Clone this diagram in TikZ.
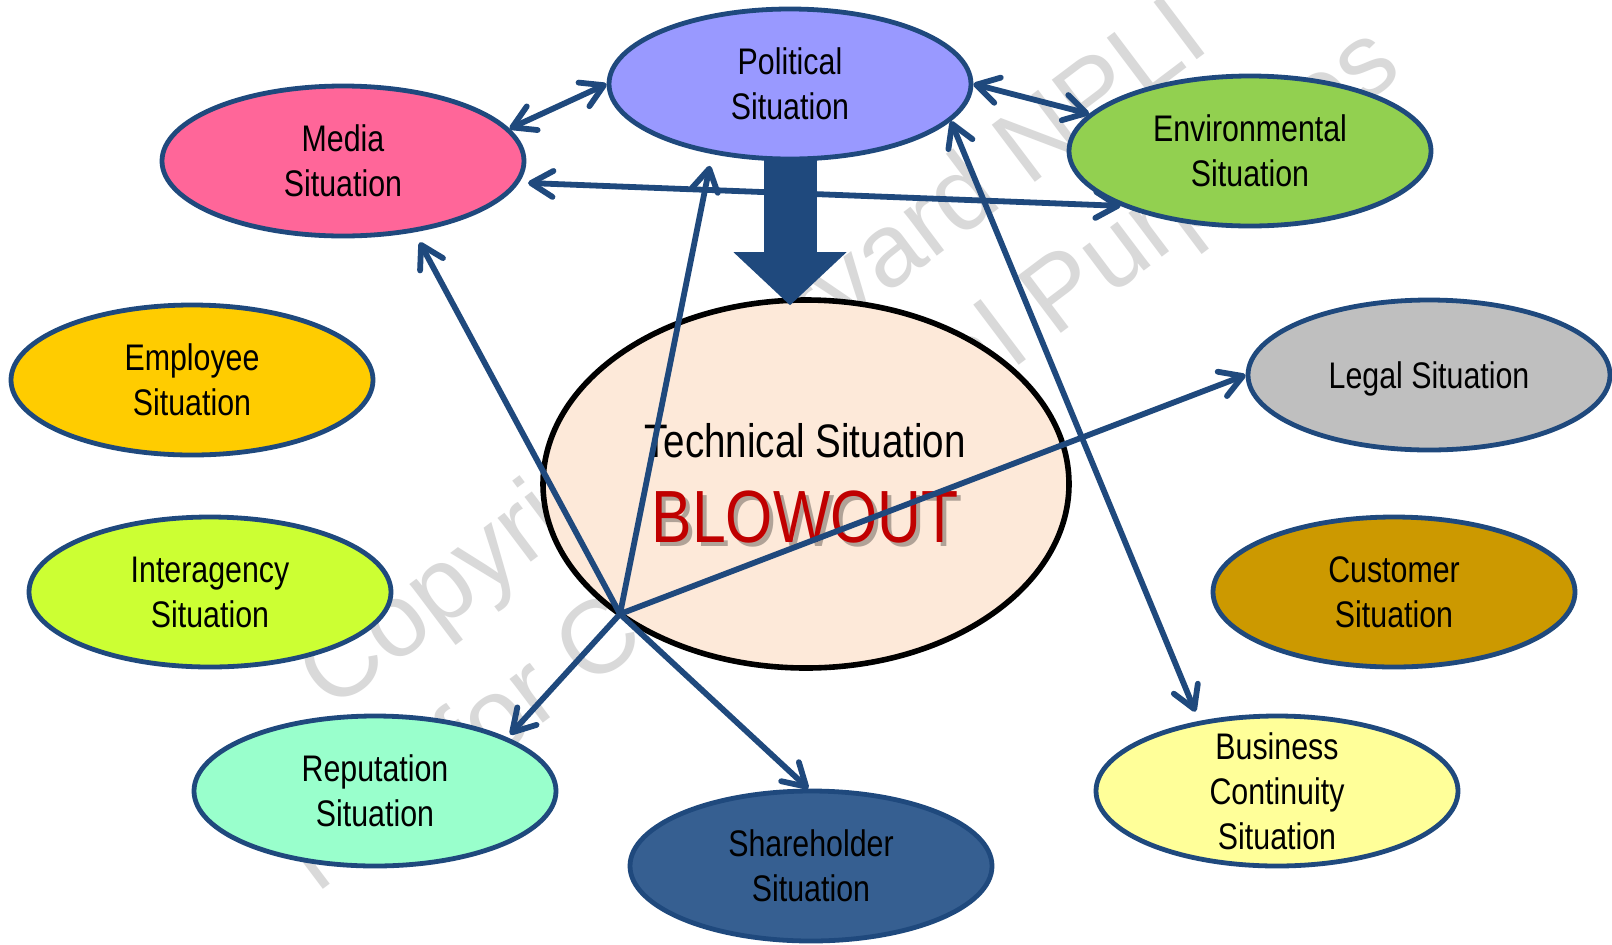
\documentclass[tikz,border=0pt]{standalone}
\usepackage{fontspec}
\setmainfont{Liberation Sans}
\newfontfamily\narrowfont{Liberation Sans}[FakeStretch=0.82]
\newfontfamily\blowfont{Liberation Sans}[FakeStretch=0.82]
\usetikzlibrary{shapes.geometric,arrows.meta,calc}

\definecolor{linkblue}{RGB}{31,73,125}
\definecolor{polfill}{RGB}{153,153,255}
\definecolor{mediafill}{RGB}{255,102,153}
\definecolor{envfill}{RGB}{146,208,80}
\definecolor{empfill}{RGB}{255,204,0}
\definecolor{interfill}{RGB}{204,255,51}
\definecolor{repfill}{RGB}{153,255,204}
\definecolor{sharefill}{RGB}{54,95,145}
\definecolor{busfill}{RGB}{255,255,153}
\definecolor{custfill}{RGB}{204,153,0}
\definecolor{legalfill}{RGB}{191,191,191}
\definecolor{techfill}{RGB}{253,233,217}
\definecolor{blowred}{RGB}{192,0,0}
\definecolor{markgray}{RGB}{217,217,217}

\begin{document}
\begin{tikzpicture}[x=0.5pt,y=-0.5pt,
  situation/.style={ellipse, draw=linkblue, line width=2.4pt,
    minimum width=181pt, minimum height=75pt, inner sep=0pt, align=center,
    font=\narrowfont\fontsize{18.5}{22.5}\selectfont},
  barb/.tip={Straight Barb[length=11pt,width=13pt,round]},
  link/.style={draw=linkblue, line width=2.9pt, line cap=round},
  oneway/.style={link, -barb},
  twoway/.style={link, barb-barb},
  watermark/.style={text=markgray, rotate=37, anchor=base west, inner sep=0pt,
    font=\fontsize{52}{60}\selectfont}
]
\fill[white] (0,0) rectangle (1612,944);
\useasboundingbox (0,0) rectangle (1612,944);

% watermark behind everything
\node[watermark] (wmone) at (331,713) {Copyright Harvard NPLI};
\node[watermark] (wmtwo) at (316,895) {Not for Commercial Purposes};

% surrounding situations
\node[situation, fill=polfill]   (political)   at (790,84)   {Political\\Situation};
\node[situation, fill=mediafill] (media)       at (343,161)  {Media\\Situation};
\node[situation, fill=envfill]   (environmental) at (1250,151) {Environmental\\Situation};
\node[situation, fill=empfill]   (employee)    at (192,380)  {Employee\\Situation};
\node[situation, fill=interfill] (interagency) at (210,592)  {Interagency\\Situation};
\node[situation, fill=repfill]   (reputation)  at (375,791)  {Reputation\\Situation};
\node[situation, fill=sharefill] (shareholder) at (811,866)  {Shareholder\\Situation};
\node[situation, fill=busfill,
  label={[name=bustext, align=center, font=\narrowfont\fontsize{18.5}{22.5}\selectfont]center:Business\\Continuity\\Situation}]
                                 (business)    at (1277,791) {};
\node[situation, fill=custfill]  (customer)    at (1394,592) {Customer\\Situation};
\node[situation, fill=legalfill, text depth=0pt] (legal) at (1429,375) {Legal Situation};

% central situation
\node[ellipse, draw=black, line width=2.8pt, fill=techfill,
  minimum width=263pt, minimum height=184pt, inner sep=0pt] (tech) at (806,484) {};
\node[anchor=base, inner sep=0pt, font=\narrowfont\fontsize{23.5}{28}\selectfont]
  (techtitle) at (805,457) {Technical Situation};
\node[anchor=base, inner sep=0pt, text=black, opacity=0.3, font=\blowfont\fontsize{37}{44}\selectfont]
  (blowshadow) at (809,546) {BLOWOUT};
\node[anchor=base, inner sep=0pt, text=blowred, font=\blowfont\fontsize{37}{44}\selectfont]
  (blowout) at (805,542) {BLOWOUT};

% links
\coordinate (hub) at (620,614);
\draw[twoway] (media.11) -- (political.180);
\draw[twoway] (political.0) -- (environmental.167);
\draw[twoway, shorten <=4.5pt] (media.-7) -- (environmental.203);
\draw[oneway, shorten >=5.7pt] (hub) -- (media.-45);
\draw[oneway, shorten >=6pt] (hub) -- (political.222);
\draw[oneway] (hub) -- (legal.180);
\draw[oneway, shorten >=2pt] (hub) -- (reputation.22);
\draw[oneway] (hub) -- (shareholder.92);
\draw[twoway, shorten >=5pt] (political.-13) -- (business.138);

% heavy arrow from the political situation into the blowout
\draw[linkblue, line width=26.5pt,
  -{Triangle[length=26.5pt,width=56.5pt,line width=0pt]}]
  ($(political.south)+(0,-4)$) -- ($(political.south |- tech.north)+(0,8)$);
\end{tikzpicture}
\end{document}
